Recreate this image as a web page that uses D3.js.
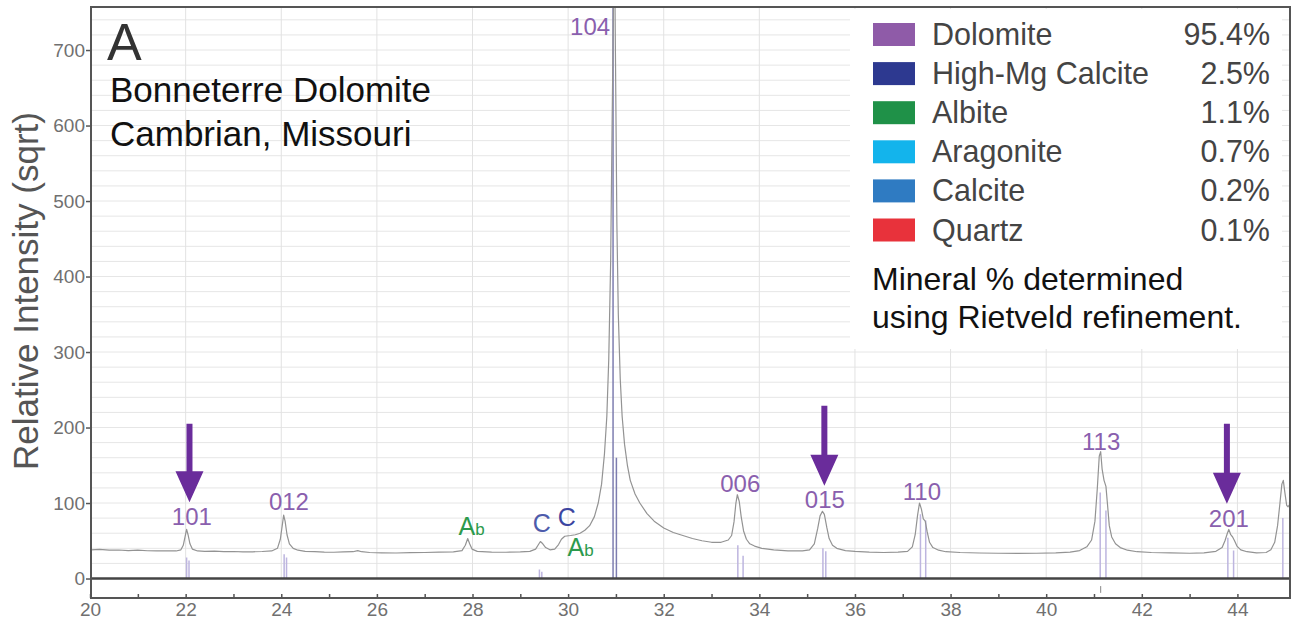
<!DOCTYPE html>
<html>
<head>
<meta charset="utf-8">
<style>
body { margin: 0; background: #fff; }
svg text { font-family: "Liberation Sans", Arial, Helvetica, sans-serif; }
.axis path { display: none; }
.axis line { stroke: #555; stroke-width: 1.5; }
.axis text { font-size: 19px; fill: #707070; }
</style>
</head>
<body>
<script src="https://cdn.jsdelivr.net/npm/d3@7/dist/d3.min.js"></script>
<script>
// measured pattern, [2theta, intensity]
const spectrum = [
  [20.02,38],[20.2,38.5],[20.4,37.5],[20.6,37.8],[20.8,37],[21.0,37.5],[21.2,36.8],[21.4,36.5],[21.6,36.8],[21.8,36.5],
  [21.9,38],[21.95,44],[21.99,56],[22.02,65],[22.05,58],[22.09,46],[22.14,39],[22.25,36.5],[22.4,36],[22.6,36.2],
  [22.8,35.5],[23.0,35.8],[23.2,35.2],[23.4,35.4],[23.6,35.8],[23.8,36.5],[23.92,40],[23.98,52],[24.02,70],[24.05,84],
  [24.08,76],[24.12,58],[24.17,46],[24.25,40],[24.35,37.5],[24.5,36],[24.7,35.5],[24.9,35],[25.1,34.8],[25.3,35.2],
  [25.5,35.5],[25.6,37],[25.68,35.5],[25.85,34.5],[26.1,34],[26.4,33.8],[26.7,34.2],[27.0,34.5],[27.3,35],[27.6,35.2],
  [27.78,37],[27.85,44],[27.9,53],[27.94,46],[27.99,39],[28.1,36],[28.4,35],[28.7,34.8],[29.0,35.2],[29.2,36],
  [29.32,39],[29.38,45],[29.42,49],[29.47,46],[29.53,41],[29.62,38],[29.72,39],[29.8,45],[29.86,52],[29.93,56],
  [30.05,57],[30.15,58],[30.25,60],[30.35,64],[30.45,70],[30.55,82],[30.63,100],[30.7,125],[30.76,165],[30.81,215],
  [30.85,290],[30.89,420],[30.92,600],[30.95,770],[30.98,770],[31.0,620],[31.02,470],[31.05,350],[31.09,265],[31.13,215],
  [31.18,178],[31.24,150],[31.3,130],[31.4,112],[31.5,100],[31.65,86],[31.8,76],[32.0,67],[32.2,61],[32.4,57],
  [32.6,53],[32.8,50],[33.0,48],[33.2,48],[33.35,51],[33.42,57],[33.47,75],[33.51,100],[33.54,111],[33.58,102],
  [33.62,82],[33.67,63],[33.73,52],[33.8,46],[33.9,43],[34.05,40],[34.3,38],[34.6,36.5],[34.9,36.5],[35.05,38],
  [35.15,46],[35.22,66],[35.27,83],[35.32,89],[35.36,85],[35.41,68],[35.46,53],[35.53,44],[35.62,40],[35.8,37],
  [36.0,36],[36.3,35],[36.6,34.5],[36.9,35],[37.1,36],[37.2,42],[37.26,58],[37.31,84],[37.35,100],[37.39,92],
  [37.43,79],[37.47,76],[37.51,62],[37.56,48],[37.63,41],[37.75,37.5],[37.9,35.5],[38.2,34.5],[38.6,33.8],[39.0,33.5],
  [39.4,33.2],[39.8,33.5],[40.2,34],[40.5,35],[40.7,37],[40.85,42],[40.95,51],[41.02,76],[41.07,120],[41.11,162],
  [41.14,168],[41.17,145],[41.21,130],[41.25,122],[41.28,100],[41.32,70],[41.37,55],[41.45,46],[41.55,41],[41.7,37.5],
  [41.9,35.5],[42.2,34.5],[42.6,34],[43.0,33.5],[43.3,34],[43.55,36],[43.68,41],[43.74,50],[43.79,60],[43.82,65],
  [43.86,58],[43.9,55],[43.94,50],[43.99,43],[44.07,38],[44.2,35.5],[44.4,34],[44.6,34.5],[44.7,38],[44.78,48],
  [44.84,70],[44.89,100],[44.93,125],[44.96,130],[44.99,115],[45.03,97],[45.06,95],[45.1,99]
];

// reference peak sticks [2theta, height]
const sticks = [
  [22.02,28],[22.07,24],[24.06,32],[24.11,28],[29.40,12],[29.45,9],
  [33.55,44],[33.66,30],[35.33,40],[35.39,36],[37.37,85],[37.48,77],
  [41.13,114],[41.25,90],[43.80,54],[43.92,37],[44.95,80]
];
const strongSticks = [[30.94,770],[31.01,160]];
const diffTicks = [[41.14,-10,-19]];

const hklText = ["101","012","104","006","015","110","113","201"];
const hklPos = [22.13, 24.16, 30.46, 33.6, 35.37, 37.4, 41.15, 43.82];
const hklLevel = [71, 91, 720, 114.6, 93, 104, 170, 68];

const phaseMain = ["A","C","C","A"];
const phaseSub = ["b","","","b"];
const phasePos = [27.98, 29.45, 29.97, 30.26];
const phaseLevel = [57.6, 62, 69, 29.8];
const phaseColor = ["#2c9a4c","#4d5bab","#3c45a0","#2c9a4c"];

const arrowPos = [22.08, 35.36, 43.78];
const arrowTop = [205, 229, 205];
const arrowTip = [101, 123, 99];

const minerals = ["Dolomite","High-Mg Calcite","Albite","Aragonite","Calcite","Quartz"];
const mineralPct = ["95.4%","2.5%","1.1%","0.7%","0.2%","0.1%"];
const mineralColor = ["#8f5ba8","#2d3990","#1f9148","#13b4ec","#2f7bc2","#e8323b"];

const xMajor = [20,22,24,26,28,30,32,34,36,38,40,42,44];
const xMinor = [21,23,25,27,29,31,33,35,37,39,41,43];
const yTicks = [0,100,200,300,400,500,600,700];

const W = 1294, H = 620;
const svg = d3.select("body").append("svg").attr("width", W).attr("height", H);

const x = d3.scaleLinear().domain([20.02, 45.1]).range([91, 1290]);
const y = d3.scaleLinear().domain([-25.8, 757]).range([598, 7]);
const pL = x.range()[0], pR = x.range()[1], pT = y.range()[1], pB = y.range()[0];

svg.append("clipPath").attr("id", "plot")
  .append("rect").attr("x", pL).attr("y", pT)
  .attr("width", pR - pL).attr("height", y(0) - pT);

// grid
const grid = svg.append("g");
grid.selectAll(".hg").data(d3.range(20, 757, 20)).join("line")
  .attr("x1", pL).attr("x2", pR)
  .attr("y1", d => y(d)).attr("y2", d => y(d))
  .attr("stroke", "#e6e6e6").attr("stroke-width", 1);
grid.selectAll(".vg").data(xMajor.slice(1)).join("line")
  .attr("x1", d => x(d)).attr("x2", d => x(d))
  .attr("y1", pT).attr("y2", y(0))
  .attr("stroke", "#e2e2e2").attr("stroke-width", 1);

const plot = svg.append("g").attr("clip-path", "url(#plot)");

// reference sticks
plot.selectAll(".stick").data(sticks).join("line")
  .attr("x1", d => x(d[0])).attr("x2", d => x(d[0]))
  .attr("y1", y(0)).attr("y2", d => y(d[1]))
  .attr("stroke", "#bdb5df").attr("stroke-width", 1.5);
plot.selectAll(".sstick").data(strongSticks).join("line")
  .attr("x1", d => x(d[0])).attr("x2", d => x(d[0]))
  .attr("y1", y(0)).attr("y2", d => y(d[1]))
  .attr("stroke", "#7d7db0").attr("stroke-width", 1.5);

// pattern
const line = d3.line().x(d => x(d[0])).y(d => y(d[1]));
plot.append("path").datum(spectrum)
  .attr("fill", "none").attr("stroke", "#939393").attr("stroke-width", 1.2)
  .attr("stroke-linejoin", "round").attr("d", line);

// diff band tick
svg.selectAll(".dt").data(diffTicks).join("line")
  .attr("x1", d => x(d[0])).attr("x2", d => x(d[0]))
  .attr("y1", d => y(d[1])).attr("y2", d => y(d[2]))
  .attr("stroke", "#888").attr("stroke-width", 1);

// axes
svg.append("g").attr("class", "axis")
  .attr("transform", `translate(0,${pB})`)
  .call(d3.axisBottom(x).tickValues(xMajor).tickSize(-4).tickPadding(5).tickFormat(d3.format("d")));
svg.append("g").attr("class", "axis")
  .attr("transform", `translate(0,${pB})`)
  .call(d3.axisBottom(x).tickValues(xMinor).tickSize(-4).tickFormat(""));
svg.append("g").attr("class", "axis")
  .attr("transform", `translate(${pL},0)`)
  .call(d3.axisLeft(y).tickValues(yTicks).tickSize(5).tickPadding(1));

// zero line and frame
svg.append("line").attr("x1", pL).attr("x2", pR).attr("y1", y(0)).attr("y2", y(0))
  .attr("stroke", "#444").attr("stroke-width", 2.5);
svg.append("rect").attr("x", pL).attr("y", pT)
  .attr("width", pR - pL).attr("height", pB - pT)
  .attr("fill", "none").attr("stroke", "#555").attr("stroke-width", 2);

svg.append("text")
  .attr("transform", `translate(38,291) rotate(-90)`)
  .attr("text-anchor", "middle").attr("font-size", 35).attr("fill", "#555")
  .text("Relative Intensity (sqrt)");

// peak labels
svg.selectAll(".hkl").data(hklText).join("text")
  .attr("x", (d, i) => x(hklPos[i])).attr("y", (d, i) => y(hklLevel[i]))
  .attr("text-anchor", "middle").attr("font-size", 24).attr("fill", "#8a5fae")
  .text(d => d);

const ph = svg.selectAll(".ph").data(phaseMain).join("text")
  .attr("x", (d, i) => x(phasePos[i])).attr("y", (d, i) => y(phaseLevel[i]))
  .attr("text-anchor", "middle").attr("font-size", 25)
  .attr("fill", (d, i) => phaseColor[i]);
ph.append("tspan").text(d => d);
ph.append("tspan").attr("font-size", 17).text((d, i) => phaseSub[i]);

// arrows
svg.selectAll(".arrow").data(arrowPos).join("path")
  .attr("fill", "#6a2c9b")
  .attr("d", (d, i) => {
    const cx = x(d), y0 = y(arrowTop[i]), y1 = y(arrowTip[i]);
    const hy = y1 - 31;
    return `M${cx - 3},${y0}L${cx + 3},${y0}L${cx + 3},${hy}L${cx + 14},${hy}L${cx},${y1}L${cx - 14},${hy}L${cx - 3},${hy}Z`;
  });

// title
svg.append("text").attr("x", 107).attr("y", 60).attr("font-size", 52).attr("fill", "#333").text("A");
svg.append("text").attr("x", 110).attr("y", 102).attr("font-size", 35).attr("fill", "#111").text("Bonneterre Dolomite");
svg.append("text").attr("x", 110).attr("y", 146).attr("font-size", 35).attr("fill", "#111").text("Cambrian, Missouri");

// legend
const lg = svg.append("g");
lg.append("rect").attr("x", 850).attr("y", 9).attr("width", 432).attr("height", 340).attr("fill", "#fff");
const rows = lg.selectAll(".row").data(minerals).join("g")
  .attr("transform", (d, i) => `translate(0,${45 + i * 39.1})`);
rows.append("rect").attr("x", 873).attr("y", -22).attr("width", 42).attr("height", 23)
  .attr("fill", (d, i) => mineralColor[i]);
rows.append("text").attr("x", 932).attr("y", 0).attr("font-size", 30.5).attr("fill", "#444").text(d => d);
rows.append("text").attr("x", 1270).attr("y", 0).attr("text-anchor", "end")
  .attr("font-size", 30.5).attr("fill", "#444").text((d, i) => mineralPct[i]);
lg.append("text").attr("x", 872).attr("y", 290).attr("font-size", 32).attr("fill", "#111").text("Mineral % determined");
lg.append("text").attr("x", 872).attr("y", 328).attr("font-size", 32).attr("fill", "#111").text("using Rietveld refinement.");
</script>
</body>
</html>
